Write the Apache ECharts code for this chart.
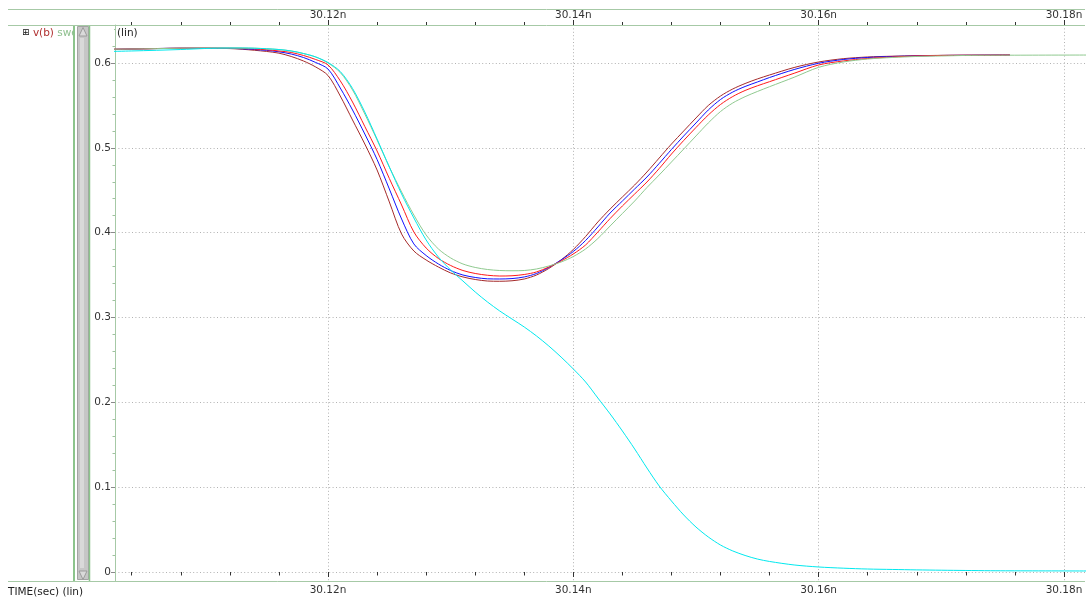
<!DOCTYPE html>
<html>
<head>
<meta charset="utf-8">
<title>v(b) sweep</title>
<script src="https://cdn.jsdelivr.net/npm/echarts@6/dist/echarts.min.js"></script>
<style>
  html, body { margin: 0; padding: 0; background: #ffffff; }
  #chart { width: 1088px; height: 599px; }
</style>
</head>
<body>
<div id="chart"></div>
<script>
// Sample times (ns) shared by every trace
const times = [30.100, 30.104, 30.108, 30.110, 30.112,
  30.113, 30.114, 30.115, 30.116, 30.117, 30.118, 30.119, 30.120, 30.121, 30.122,
  30.123, 30.124, 30.125, 30.126, 30.127, 30.128, 30.129, 30.130, 30.131, 30.132,
  30.133, 30.134, 30.135, 30.136, 30.137, 30.138, 30.139, 30.140, 30.141, 30.142,
  30.143, 30.144, 30.145, 30.146, 30.147, 30.148, 30.149, 30.150, 30.151, 30.152,
  30.153, 30.154, 30.155, 30.156, 30.158, 30.160, 30.162, 30.164, 30.166, 30.168,
  30.170, 30.172, 30.174, 30.1756, 30.182];

// v(b) for each sweep point (V)
const vbBrown = [0.6153, 0.6165, 0.6174, 0.6174, 0.6170,
  0.6162, 0.6150, 0.6136, 0.6116, 0.6077, 0.6024, 0.5953, 0.5853, 0.5611, 0.5328,
  0.5045, 0.4739, 0.4362, 0.3984, 0.3784, 0.3678, 0.3595, 0.3525, 0.3478, 0.3448,
  0.3430, 0.3427, 0.3433, 0.3454, 0.3501, 0.3578, 0.3678, 0.3802, 0.3955, 0.4126,
  0.4279, 0.4421, 0.4562, 0.4715, 0.4880, 0.5045, 0.5199, 0.5352, 0.5499, 0.5611,
  0.5694, 0.5758, 0.5812, 0.5859, 0.5947, 0.6012, 0.6051, 0.6071, 0.6080, 0.6086,
  0.6090, 0.6092, 0.6093, 0.6094, null];
const vbBlue = [0.6156, 0.6165, 0.6174, 0.6174, 0.6172,
  0.6168, 0.6159, 0.6149, 0.6132, 0.6106, 0.6065, 0.6006, 0.5929, 0.5705, 0.5446,
  0.5163, 0.4863, 0.4515, 0.4161, 0.3867, 0.3731, 0.3631, 0.3554, 0.3501, 0.3472,
  0.3456, 0.3454, 0.3459, 0.3478, 0.3519, 0.3590, 0.3678, 0.3778, 0.3908, 0.4067,
  0.4232, 0.4373, 0.4515, 0.4656, 0.4816, 0.4981, 0.5140, 0.5293, 0.5446, 0.5570,
  0.5658, 0.5723, 0.5776, 0.5829, 0.5923, 0.5997, 0.6041, 0.6065, 0.6077, 0.6084,
  0.6089, 0.6091, 0.6093, 0.6094, null];
const vbRed = [0.6159, 0.6165, 0.6174, 0.6175, 0.6175,
  0.6172, 0.6165, 0.6156, 0.6142, 0.6124, 0.6089, 0.6041, 0.5977, 0.5790, 0.5540,
  0.5252, 0.4963, 0.4639, 0.4326, 0.4008, 0.3819, 0.3696, 0.3613, 0.3554, 0.3519,
  0.3498, 0.3489, 0.3492, 0.3507, 0.3537, 0.3595, 0.3666, 0.3749, 0.3855, 0.4008,
  0.4167, 0.4315, 0.4456, 0.4597, 0.4756, 0.4927, 0.5087, 0.5240, 0.5387, 0.5511,
  0.5605, 0.5676, 0.5731, 0.5780, 0.5879, 0.5977, 0.6024, 0.6053, 0.6071, 0.6083,
  0.6089, 0.6091, 0.6092, 0.6094, null];
const vbGreen = [0.6159, 0.6165, 0.6174, 0.6177, 0.6177,
  0.6177, 0.6175, 0.6168, 0.6159, 0.6142, 0.6112, 0.6071, 0.6000, 0.5888, 0.5682,
  0.5399, 0.5093, 0.4774, 0.4480, 0.4208, 0.3973, 0.3808, 0.3702, 0.3631, 0.3590,
  0.3566, 0.3554, 0.3551, 0.3554, 0.3572, 0.3607, 0.3654, 0.3719, 0.3808, 0.3931,
  0.4079, 0.4226, 0.4373, 0.4532, 0.4680, 0.4833, 0.4986, 0.5140, 0.5293, 0.5428,
  0.5529, 0.5603, 0.5664, 0.5721, 0.5832, 0.5949, 0.6012, 0.6047, 0.6065, 0.6077,
  0.6083, 0.6089, 0.6091, 0.6092, 0.6094];
const vbCyan = [0.6130, 0.6142, 0.6159, 0.6171, 0.6177,
  0.6177, 0.6174, 0.6168, 0.6159, 0.6142, 0.6112, 0.6071, 0.6006, 0.5900, 0.5700,
  0.5423, 0.5104, 0.4774, 0.4456, 0.4173, 0.3914, 0.3713, 0.3560, 0.3430, 0.3301,
  0.3183, 0.3077, 0.2982, 0.2888, 0.2782, 0.2664, 0.2534, 0.2393, 0.2240, 0.2051,
  0.1863, 0.1662, 0.1450, 0.1226, 0.1014, 0.0837, 0.0672, 0.0530, 0.0413, 0.0318,
  0.0248, 0.0195, 0.0153, 0.0124, 0.0083, 0.0059, 0.0045, 0.0035, 0.0030, 0.0025,
  0.0021, 0.0018, 0.0015, 0.0014, 0.0012];

// Axis ranges and tick values
const timeMin = 30.102636, timeMax = 30.181712;
const voltMin = -0.01061, voltMax = 0.6448;
const timeMajor = [30.12, 30.14, 30.16, 30.18];
const voltMajor = [0, 0.1, 0.2, 0.3, 0.4, 0.5, 0.6];

const timeMinor = [];
for (let k = 0; k <= 20; k++) {
  const t = +(30.104 + k * 0.004).toFixed(3);
  if (t > timeMin && t < timeMax && !timeMajor.some(m => Math.abs(m - t) < 1e-6)) timeMinor.push(t);
}
const voltMinor = [];
for (let k = 0; k <= 32; k++) {
  const v = +(k * 0.02).toFixed(2);
  if (v < voltMax && !voltMajor.some(m => Math.abs(m - v) < 1e-6)) voltMinor.push(v);
}

const traces = [
  { name: 'v(b) 1', values: vbBrown, color: '#a52a2a' },
  { name: 'v(b) 2', values: vbBlue, color: '#1010ff' },
  { name: 'v(b) 3', values: vbRed, color: '#ff1a1a' },
  { name: 'v(b) 4', values: vbGreen, color: '#8fc98f' },
  { name: 'v(b) 5', values: vbCyan, color: '#00e8ee' }
];

const FONT = 'DejaVu Sans';
const FRAME = '#a6c9a6';
const fmtTime = v => v.toFixed(2) + 'n';
const fmtVolt = v => String(+v.toFixed(1));

function timeAxis(position, ticks, len, withLabels, withGrid) {
  return {
    type: 'value', position, min: timeMin, max: timeMax,
    axisLine: { show: false },
    axisTick: { show: true, customValues: ticks, length: len, lineStyle: { color: '#333', width: 1 } },
    axisLabel: {
      show: withLabels, customValues: timeMajor, formatter: fmtTime,
      fontFamily: FONT, fontSize: 10.5, color: '#333', margin: 4, hideOverlap: false
    },
    splitLine: { show: withGrid, lineStyle: { color: '#b2b2b2', type: [1, 2.4], width: 1 } }
  };
}

const chart = echarts.init(document.getElementById('chart'), null, { renderer: 'canvas' });

chart.setOption({
  backgroundColor: '#ffffff',
  animation: false,
  grid: { left: 115, right: 3, top: 25, bottom: 18, containLabel: false },
  xAxis: [
    timeAxis('bottom', timeMajor, 5, true, true),
    timeAxis('bottom', timeMinor, 3.5, false, false),
    timeAxis('top', timeMajor, 5, true, false),
    timeAxis('top', timeMinor, 3, false, false)
  ],
  yAxis: [
    {
      type: 'value', position: 'left', min: voltMin, max: voltMax,
      axisLine: { show: true, lineStyle: { color: FRAME, width: 1 } },
      axisTick: { show: true, customValues: voltMajor, length: 4, lineStyle: { color: '#8a8a8a' } },
      axisLabel: {
        customValues: voltMajor, formatter: fmtVolt,
        fontFamily: FONT, fontSize: 10.5, color: '#333', margin: 4
      },
      splitLine: { show: true, lineStyle: { color: '#b2b2b2', type: [1, 2.4], width: 1 } }
    },
    {
      type: 'value', position: 'left', min: voltMin, max: voltMax,
      axisLine: { show: false },
      axisTick: { show: true, customValues: voltMinor, length: 2.5, lineStyle: { color: '#9fc29f' } },
      axisLabel: { show: false },
      splitLine: { show: false }
    }
  ],
  series: traces.map(tr => ({
    name: tr.name,
    type: 'line',
    xAxisIndex: 0,
    yAxisIndex: 0,
    showSymbol: false,
    symbol: 'none',
    smooth: 0.3,
    connectNulls: false,
    clip: true,
    lineStyle: { color: tr.color, width: 1 },
    itemStyle: { color: tr.color },
    data: times.map((t, i) => [t, tr.values[i]])
  })),
  graphic: [
    // frame rules across the full width
    { type: 'line', z: 10, shape: { x1: 8, y1: 9.5, x2: 1085, y2: 9.5 }, style: { stroke: FRAME, lineWidth: 1 } },
    { type: 'line', z: 10, shape: { x1: 8, y1: 25.5, x2: 1085, y2: 25.5 }, style: { stroke: FRAME, lineWidth: 1 } },
    { type: 'line', z: 10, shape: { x1: 8, y1: 581.5, x2: 1085, y2: 581.5 }, style: { stroke: FRAME, lineWidth: 1 } },
    // signal legend
    {
      type: 'text', z: 10, x: 22, y: 33,
      style: {
        text: '{box|⊞} {vb|v(b)} {sw|sweep}', verticalAlign: 'middle',
        font: '10.5px ' + FONT,
        rich: {
          box: { fontSize: 9, fill: '#111', fontFamily: FONT },
          vb: { fill: '#b03030', fontSize: 10.5, fontFamily: FONT },
          sw: { fill: '#8fc08f', fontSize: 10.5, fontFamily: FONT }
        }
      }
    },
    { type: 'rect', z: 11, shape: { x: 74, y: 26, width: 40, height: 16 }, style: { fill: '#ffffff' } },
    // vertical scroll bar
    { type: 'line', z: 12, shape: { x1: 74, y1: 26, x2: 74, y2: 581 }, style: { stroke: '#8cc48c', lineWidth: 2 } },
    { type: 'rect', z: 12, shape: { x: 77.5, y: 26.5, width: 11, height: 553 }, style: { fill: '#c6c6c6', stroke: '#a3a3a3', lineWidth: 1 } },
    { type: 'rect', z: 12, shape: { x: 80, y: 38, width: 4, height: 530 }, style: { fill: '#d9d9d9' } },
    { type: 'line', z: 12, shape: { x1: 89.5, y1: 26, x2: 89.5, y2: 581 }, style: { stroke: '#8cc48c', lineWidth: 1.5 } },
    { type: 'polygon', z: 13, shape: { points: [[79, 36], [83, 27.5], [87, 36]] }, style: { fill: '#dadada', stroke: '#9c9c9c', lineWidth: 1 } },
    { type: 'polygon', z: 13, shape: { points: [[79, 571], [83, 579.5], [87, 571]] }, style: { fill: '#dadada', stroke: '#9c9c9c', lineWidth: 1 } },
    // axis captions
    { type: 'text', z: 10, x: 117, y: 33, style: { text: '(lin)', font: '10.5px ' + FONT, fill: '#222', verticalAlign: 'middle' } },
    { type: 'text', z: 10, x: 8, y: 592, style: { text: 'TIME(sec) (lin)', font: '10.5px ' + FONT, fill: '#222', verticalAlign: 'middle' } }
  ]
});
</script>
</body>
</html>
